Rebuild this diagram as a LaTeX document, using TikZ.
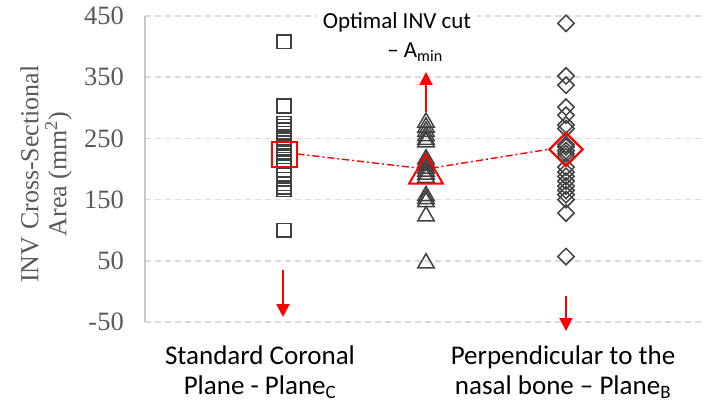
\documentclass[tikz,border=0pt]{standalone}
\usepackage{fontspec}
\setmainfont{Liberation Serif}
\newfontfamily\calfont{Carlito}
\usetikzlibrary{shapes.geometric,arrows.meta}
\definecolor{mk}{HTML}{404040}
\definecolor{gridc}{HTML}{D9D9D9}
\definecolor{axisc}{HTML}{C8C8C8}
\definecolor{lbl}{HTML}{595959}
\definecolor{hl}{HTML}{FF0000}
\begin{document}
\begin{tikzpicture}[x=1pt,y=-1pt,
  gridline/.style={draw=gridc,line width=1.4pt,dash pattern=on 6pt off 4pt},
  axisline/.style={draw=axisc,line width=1.5pt},
  ticklbl/.style={anchor=east,text=lbl,inner sep=0pt,font=\fontsize{26.5}{30}\selectfont},
  sqm/.style={shape=rectangle,draw=mk,line width=1.5pt,minimum size=13.6pt,inner sep=0pt},
  % triangles are shifted so that their bounding box is centred on the value
  trim/.style={regular polygon,regular polygon sides=3,draw=mk,line width=1.5pt,minimum size=19pt,inner sep=0pt,yshift=-2.4pt},
  diam/.style={diamond,aspect=1,draw=mk,line width=1.5pt,minimum width=17pt,minimum height=17pt,inner sep=0pt},
  meanline/.style={draw=hl,line width=1.4pt,dash pattern=on 7pt off 3pt on 2pt off 3pt},
  redarrow/.style={draw=hl,line width=2pt,-{Triangle[width=13pt,length=13pt]}},
  catlbl/.style={align=center,inner sep=0pt,font=\calfont\fontsize{27}{30}\selectfont}
]
\useasboundingbox (0,0) rectangle (703,403);

% value axis: data units mapped onto the canvas
\begin{scope}[x=1pt,y=0.612pt,shift={(0pt,-291.4pt)}]
  \foreach \v in {-50,50,...,450} {
    \draw[gridline] (145,\v) -- (703,\v);
    \node[ticklbl] (tick\v) at (124,\v) {\v};
  }
  \draw[axisline] (145,-50) -- (145,450);

  % group means joined by a dash-dot line
  \coordinate (ma) at (426,200);
  \node[sqm,draw=hl,line width=2pt,minimum size=25pt] (mc) at (284,224.5) {};
  \node[diam,draw=hl,line width=2pt,minimum width=34pt,minimum height=34pt] (mb) at (566,232) {};
  \draw[meanline] (mc.east) -- (ma) -- (mb.west);

  % Plane C (squares)
  \foreach \v [count=\i] in {408,303,275,270,264,258,250,244,238,232,226,220,212,205,198,190,183,176,170,166,100}
    \node[sqm] (c\i) at (284,\v) {};
  % A min (triangles)
  \foreach \v [count=\i] in {50,127,150,155,160,190,195,200,205,210,215,220,248,252,258,265,272,280}
    \node[trim] (a\i) at (426,\v) {};
  % Plane B (diamonds)
  \foreach \v [count=\i] in {438,352,337,301,288,272,266,240,236,230,225,220,203,195,188,180,172,165,158,150,128,57}
    \node[diam] (b\i) at (566,\v) {};

  % highlighted means drawn on top
  \node[sqm,draw=hl,line width=2pt,minimum size=25pt] at (284,224.5) {};
  \node[trim,draw=hl,line width=2pt,minimum size=39pt,yshift=-2.5pt] (mA) at (426,200) {};
  \node[diam,draw=hl,line width=2pt,minimum width=34pt,minimum height=34pt] at (566,232) {};
\end{scope}

% axis title
\node[rotate=90,align=center,text=lbl,inner sep=0pt,font=\fontsize{26}{28}\selectfont]
  (ytitle) at (46,174) {INV Cross-Sectional\\Area (mm\textsuperscript{2})};

% annotation at the top
\node[fill=white,inner xsep=6pt,inner ysep=1pt,font=\calfont\fontsize{23}{26}\selectfont]
  (opt1) at (397,22) {Optimal INV cut};
\node[inner sep=0pt,font=\calfont\fontsize{23}{26}\selectfont]
  (opt2) at (415,52) {– A\textsubscript{min}};

% red arrows
\coordinate (upS) at (426,112);
\coordinate (upE) at (426,72);
\draw[redarrow] (upS) -- (upE);
\coordinate (dcS) at (283,270);
\coordinate (dcE) at (283,317);
\draw[redarrow] (dcS) -- (dcE);
\coordinate (dbS) at (566,296);
\coordinate (dbE) at (566,331);
\draw[redarrow] (dbS) -- (dbE);

% category labels
\node[catlbl] (catC) at (260,372) {Standard Coronal\\Plane - Plane\textsubscript{C}};
\node[catlbl] (catB) at (563,372) {Perpendicular to the\\nasal bone – Plane\textsubscript{B}};
\end{tikzpicture}
\end{document}
